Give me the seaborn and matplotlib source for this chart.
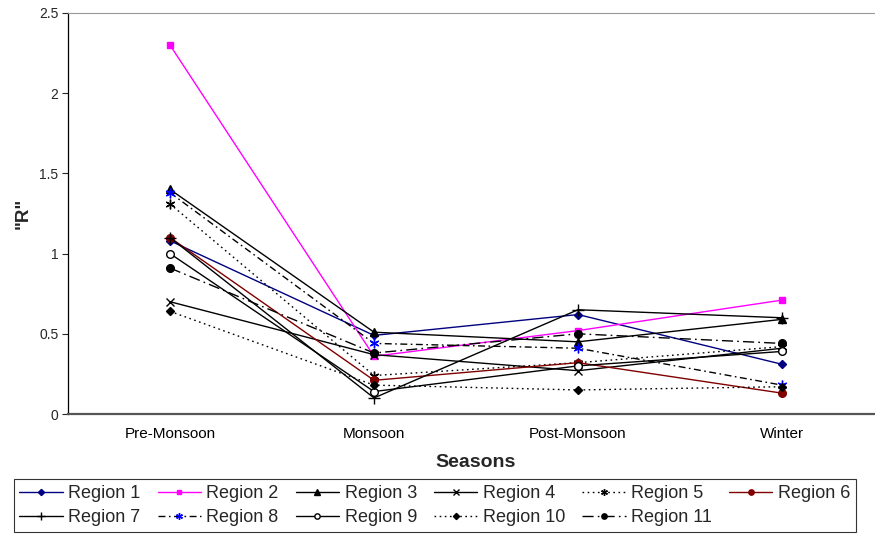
import matplotlib
matplotlib.use("Agg")
import matplotlib.pyplot as plt
import seaborn as sns
import numpy as np
import pandas as pd
from matplotlib.ticker import FixedLocator

seasons = ["Pre-Monsoon", "Monsoon", "Post-Monsoon", "Winter"]
region_names = [f"Region {i}" for i in range(1, 12)]

r1 = [1.08, 0.49, 0.62, 0.31]
r2 = [2.30, 0.36, 0.52, 0.71]
r3 = [1.40, 0.51, 0.45, 0.59]
r4 = [0.70, 0.37, 0.27, 0.41]
r5 = [1.31, 0.24, 0.32, 0.42]
r6 = [1.10, 0.21, 0.32, 0.13]
r7 = [1.10, 0.10, 0.65, 0.60]
r8 = [1.38, 0.44, 0.41, 0.18]
r9 = [1.00, 0.14, 0.30, 0.39]
r10 = [0.64, 0.18, 0.15, 0.17]
r11 = [0.91, 0.38, 0.50, 0.44]
values = [r1, r2, r3, r4, r5, r6, r7, r8, r9, r10, r11]
y_ticks = [0, 0.5, 1, 1.5, 2, 2.5]
y_tick_labels = ["0", "0.5", "1", "1.5", "2", "2.5"]

sns.set_style("white")
plt.rcParams["font.family"] = ["Liberation Sans", "DejaVu Sans"]

star = (6, 2, 0)
styles = [
    dict(color="#000080", ls="-", marker="D", mfc="#000080", mec="#000080", ms=4.5),
    dict(color="#FF00FF", ls="-", marker="s", mfc="#FF00FF", mec="#FF00FF", ms=5),
    dict(color="black", ls="-", marker="^", mfc="black", mec="black", ms=5.5),
    dict(color="black", ls="-", marker="x", mfc="black", mec="black", ms=5.5),
    dict(color="black", ls=(0, (1.2, 2.5)), marker=star, mfc="black", mec="black", ms=7),
    dict(color="#800000", ls="-", marker="o", mfc="#800000", mec="#800000", ms=5.5),
    dict(color="black", ls="-", marker="+", mfc="black", mec="black", ms=8),
    dict(color="black", ls=(0, (5, 2.5, 1.2, 2.5)), marker=star, mfc="#0000FF", mec="#0000FF", ms=7),
    dict(color="black", ls="-", marker="o", mfc="white", mec="black", ms=5.5),
    dict(color="black", ls=(0, (1.2, 2.5)), marker="D", mfc="black", mec="black", ms=4.5),
    dict(color="black", ls=(0, (8, 3, 1.2, 3)), marker="o", mfc="black", mec="black", ms=5.5),
]

fig = plt.figure(figsize=(8.75, 5.34), dpi=100)
ax = fig.add_axes([68 / 875, 1 - 414 / 534, (884 - 68) / 875, (414 - 13) / 534])

for name, vals, st in zip(region_names, values, styles):
    sns.lineplot(x=seasons, y=vals, ax=ax, label=name, color=st["color"],
                 linestyle=st["ls"], linewidth=1.0, marker=st["marker"],
                 markerfacecolor=st["mfc"], markeredgecolor=st["mec"],
                 markersize=st["ms"], markeredgewidth=1.0, sort=False,
                 errorbar=None)

ax.set_xlim(-0.5, len(seasons) - 0.5)
ax.set_ylim(0, 2.5)
ax.set_yticks(y_ticks)
ax.set_yticklabels(y_tick_labels)
ax.set_xticks(range(len(seasons)))
ax.set_xticklabels(seasons)
ax.xaxis.set_minor_locator(FixedLocator(np.arange(-0.5, len(seasons), 1.0)))
ax.tick_params(axis="x", which="major", length=0, labelsize=11, pad=9, colors="black")
ax.tick_params(axis="x", which="minor", length=4, width=0.8, color="#555555", direction="out")
ax.tick_params(axis="y", length=4, width=0.8, direction="out", labelsize=10, left=True, pad=3)

ax.spines["right"].set_visible(False)
ax.spines["left"].set_color("black")
ax.spines["left"].set_linewidth(0.9)
ax.spines["bottom"].set_color("#555555")
ax.spines["bottom"].set_linewidth(1.6)
ax.spines["top"].set_color("#999999")
ax.spines["top"].set_linewidth(0.8)

ax.set_xlabel("Seasons", fontsize=14, fontweight="bold", labelpad=10)
ax.set_ylabel('"R"', fontsize=13.5, fontweight="bold", labelpad=5)

handles, labels = ax.get_legend_handles_labels()
ax.get_legend().remove()
# arrange so the legend reads row-wise (matplotlib fills column-wise)
order = [0, 6, 1, 7, 2, 8, 3, 9, 4, 10, 5]
leg = fig.legend([handles[i] for i in order], [labels[i] for i in order],
                 ncol=6, loc="center", bbox_to_anchor=(0.497, 0.0535),
                 frameon=True, fancybox=False, edgecolor="black", fontsize=13,
                 handlelength=2.4, handletextpad=0.3, columnspacing=0.95,
                 labelspacing=0.38, borderpad=0.32, markerscale=0.7)
leg.get_frame().set_linewidth(0.8)

fig.savefig("out.png", dpi=100, facecolor="white")
